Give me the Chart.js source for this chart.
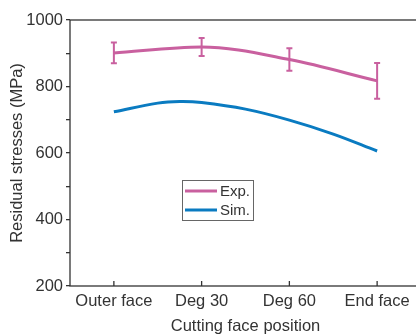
<!DOCTYPE html>
<html>
<head>
<meta charset="utf-8">
<script src="https://cdn.jsdelivr.net/npm/chart.js@4/dist/chart.umd.min.js"></script>
<style>
  html, body { margin: 0; padding: 0; background: #fff; overflow: hidden; }
  #wrap { width: 430px; height: 336px; }
</style>
</head>
<body>
<div id="wrap"><canvas id="c" width="430" height="336"></canvas></div>
<script>
// categories along the x axis
const categories = ["Outer face", "Deg 30", "Deg 60", "End face"];

// experimental values (MPa) and their error bars
const expX = [0, 1, 2, 3];
const expY = [901, 919, 881, 817];
const expErr = [31, 27, 34, 54];

// simulated curve (MPa) at these positions
const simX = [0, 0.5, 0.75, 1, 1.5, 2, 2.5, 3];
const simY = [724, 750, 755, 752, 732, 699, 657, 606];

const yTicks = [200, 400, 600, 800, 1000];

const pink = "#c9609f";
const blue = "#0a7bc1";
const ink = "#333333";
const FONT = "'Liberation Sans', Arial, sans-serif";

const toPoints = (xs, ys) => xs.map((x, i) => ({ x: x, y: ys[i] }));

// error bars, frame, inward x ticks, legend box
const extras = {
  id: "extras",
  afterDatasetsDraw(chart) {
    const { ctx, chartArea, scales } = chart;
    const xs = scales.x, ys = scales.y;
    ctx.save();
    ctx.strokeStyle = pink;
    ctx.lineWidth = 2;
    expX.forEach((xv, i) => {
      const px = xs.getPixelForValue(xv);
      const top = ys.getPixelForValue(expY[i] + expErr[i]);
      const bot = ys.getPixelForValue(expY[i] - expErr[i]);
      ctx.beginPath();
      ctx.moveTo(px, top); ctx.lineTo(px, bot);
      ctx.moveTo(px - 3, top); ctx.lineTo(px + 3, top);
      ctx.moveTo(px - 3, bot); ctx.lineTo(px + 3, bot);
      ctx.stroke();
    });
    // frame
    ctx.strokeStyle = ink;
    ctx.lineWidth = 1.3;
    ctx.strokeRect(chartArea.left, chartArea.top, chartArea.right - chartArea.left, chartArea.bottom - chartArea.top);
    ctx.beginPath();
    expX.forEach((xv) => {
      const px = xs.getPixelForValue(xv);
      ctx.moveTo(px, chartArea.bottom);
      ctx.lineTo(px, chartArea.bottom - 5);
    });
    ctx.stroke();
    // legend
    const lx = chartArea.left + 112, ly = chartArea.top + 160;
    ctx.lineWidth = 1;
    ctx.strokeStyle = "#666";
    ctx.strokeRect(lx + 0.5, ly + 0.5, 71, 40);
    ctx.font = "15px " + FONT;
    ctx.textBaseline = "middle";
    ctx.fillStyle = ink;
    chart.data.datasets.forEach((ds, i) => {
      const yy = ly + 11 + i * 19;
      ctx.strokeStyle = ds.borderColor;
      ctx.lineWidth = 3;
      ctx.beginPath();
      ctx.moveTo(lx + 3, yy); ctx.lineTo(lx + 35, yy);
      ctx.stroke();
      ctx.fillText(ds.label, lx + 38, yy + 1);
    });
    ctx.restore();
  }
};

new Chart(document.getElementById("c"), {
  type: "line",
  data: {
    datasets: [
      {
        label: "Exp.",
        data: toPoints(expX, expY),
        borderColor: pink,
        borderWidth: 3,
        pointRadius: 0,
        cubicInterpolationMode: "monotone",
      },
      {
        label: "Sim.",
        data: toPoints(simX, simY),
        borderColor: blue,
        borderWidth: 3,
        pointRadius: 0,
        tension: 0.4,
      },
    ],
  },
  options: {
    responsive: false,
    animation: false,
    layout: { padding: { top: 20, right: 9, left: 0, bottom: 0 } },
    plugins: { legend: { display: false }, tooltip: { enabled: false } },
    scales: {
      x: {
        type: "linear",
        min: -0.5,
        max: 3.5,
        afterBuildTicks: (s) => { s.ticks = expX.map((v) => ({ value: v })); },
        afterFit: (s) => { s.height = 50; },
        grid: { display: false, drawTicks: false },
        border: { display: false },
        ticks: {
          padding: 6,
          color: ink,
          font: { family: FONT, size: 16.5 },
          callback: (v) => categories[v],
          maxRotation: 0,
        },
        title: {
          display: true,
          text: "Cutting face position",
          color: ink,
          padding: { top: 0, bottom: 0 },
          font: { family: FONT, size: 16.5 },
        },
      },
      y: {
        min: 200,
        max: 1000,
        afterBuildTicks: (s) => {
          const t = [];
          for (let v = 200; v <= 1000; v += 100) t.push({ value: v });
          s.ticks = t;
        },
        afterFit: (s) => { s.width = 70; },
        grid: { drawOnChartArea: false, drawTicks: true, tickLength: 4, color: ink, lineWidth: 1.3 },
        border: { display: false },
        ticks: {
          padding: 3,
          color: ink,
          font: { family: FONT, size: 16.5 },
          callback: (v) => (yTicks.includes(v) ? String(v) : ""),
        },
        title: {
          display: true,
          text: "Residual stresses (MPa)",
          color: ink,
          padding: { top: 8, bottom: 0 },
          font: { family: FONT, size: 16.5 },
        },
      },
    },
  },
  plugins: [extras],
});
</script>
</body>
</html>
